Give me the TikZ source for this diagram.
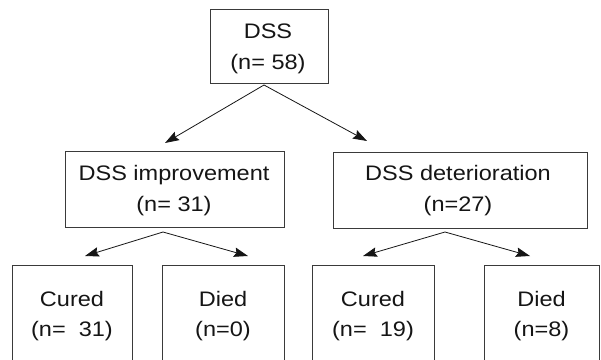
\documentclass[tikz,border=0pt]{standalone}
\usepackage{fontspec}
\setmainfont{Liberation Sans}[FakeStretch=1.12]
\usetikzlibrary{arrows.meta}
\definecolor{linegray}{HTML}{3A3A3A}
\definecolor{txtcol}{HTML}{151515}
\begin{document}
\begin{tikzpicture}[x=1pt,y=-1pt,
  box/.style={draw=linegray, line width=1pt, inner sep=0pt, rectangle},
  lbl/.style={align=center, inner sep=0pt, text=txtcol,
    font=\fontsize{21}{30.5}\selectfont},
  conn/.style={draw=txtcol, line width=0.8pt,
    -{Stealth[length=14pt,width=9.5pt,inset=2pt]}}]
\path[use as bounding box] (0,0) rectangle (601,359);
\clip (0,0) rectangle (601,359);
% boxes
\node[box, minimum width=118pt, minimum height=74pt] (top) at (269,46) {};
\node[box, minimum width=219pt, minimum height=76pt] (midL) at (174.5,189) {};
\node[box, minimum width=254pt, minimum height=76pt] (midR) at (460,190) {};
\node[box, minimum width=120pt, minimum height=135pt] (cl) at (72,332.5) {};
\node[box, minimum width=122pt, minimum height=135pt] (dl) at (223,332.5) {};
\node[box, minimum width=122pt, minimum height=135pt] (cr) at (373,332.5) {};
\node[box, minimum width=115pt, minimum height=135pt] (dr) at (541.5,332.5) {};
% texts
\node[lbl] (ttop) at (268,49) {DSS\\(n= 58)};
\node[lbl] (tmidL) at (174,190.5) {DSS improvement\\(n= 31)};
\node[lbl] (tmidR) at (458,190.5) {DSS deterioration\\(n=27)};
\node[lbl] (tcl) at (72,316) {Cured\\(n=\ \ 31)};
\node[lbl] (tdl) at (223,316) {Died\\(n=0)};
\node[lbl] (tcr) at (373,316) {Cured\\(n=\ \ 19)};
\node[lbl] (tdr) at (541.5,316) {Died\\(n=8)};
% connector coordinates
\coordinate (a0) at (264,85);
\coordinate (e1) at (165,143);
\coordinate (e2) at (367,141);
\coordinate (a1) at (163,232);
\coordinate (e3) at (85,256);
\coordinate (e4) at (248,256);
\coordinate (a2) at (445,232);
\coordinate (e5) at (363,256);
\coordinate (e6) at (530,256);
\draw[conn] (a0) -- (e1);
\draw[conn] (a0) -- (e2);
\draw[conn] (a1) -- (e3);
\draw[conn] (a1) -- (e4);
\draw[conn] (a2) -- (e5);
\draw[conn] (a2) -- (e6);
\end{tikzpicture}
\end{document}
